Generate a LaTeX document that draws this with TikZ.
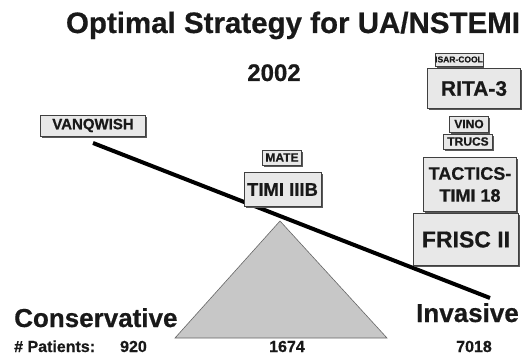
\documentclass[tikz,border=0pt]{standalone}
\usepackage{fontspec}
\setmainfont{Liberation Sans}[BoldFeatures={FakeBold=0.6}]
\usetikzlibrary{shadows}
\begin{document}
\begin{tikzpicture}[x=1pt,y=-1pt,
  trial/.style={draw=black!75,line width=0.6pt,fill=black!9,inner sep=0pt,
    align=center,font=\bfseries,text=black!90,
    drop shadow={shadow xshift=1.6pt,shadow yshift=-1.6pt,fill=black!65,opacity=1}},
  lbl/.style={font=\bfseries,text=black!90,inner sep=0pt,anchor=base}]
\useasboundingbox (0,0) rectangle (525,358);
% title
\node[lbl,font=\bfseries\fontsize{29.5}{31}\selectfont] (title) at (293,33) {Optimal Strategy for UA/NSTEMI};
\node[lbl,font=\bfseries\fontsize{24}{26}\selectfont] (year) at (274,81) {2002};
% fulcrum
\coordinate (apex) at (280,221);
\coordinate (bl) at (175,338);
\coordinate (br) at (387,338);
\fill[black!22] (apex) -- (bl) -- (br) -- cycle;
\draw[black!60,line width=0.6pt] (apex) -- (bl) -- (br) -- cycle;
% beam
\coordinate (beamL) at (93,143);
\coordinate (beamR) at (490,298);
\draw[line width=4pt] (beamL) -- (beamR);
% trials
\node[trial,minimum width=105pt,minimum height=21pt,font=\bfseries\fontsize{15}{16}\selectfont] (vanq) at (93,125.5) {VANQWISH};
\node[trial,minimum width=39pt,minimum height=15pt,font=\bfseries\fontsize{12}{13}\selectfont] (mate) at (282,157.5) {MATE};
\node[trial,minimum width=77pt,minimum height=34pt,font=\bfseries\fontsize{18.5}{21}\selectfont] (timi) at (282.5,189.5) {TIMI IIIB};
\node[trial,minimum width=31pt,minimum height=13pt,font=\bfseries\fontsize{8.5}{9}\selectfont] (isar) at (459,59.5) {ISAR-COOL};
\node[trial,minimum width=93pt,minimum height=40pt,font=\bfseries\fontsize{21}{23}\selectfont] (rita) at (474,88.5) {RITA-3};
\node[trial,minimum width=39pt,minimum height=16pt,font=\bfseries\fontsize{12}{13}\selectfont] (vino) at (469,124) {VINO};
\node[trial,minimum width=49pt,minimum height=15pt,font=\bfseries\fontsize{12}{13}\selectfont] (trucs) at (468,141.5) {TRUCS};
\node[trial,minimum width=93pt,minimum height=54pt,font=\bfseries\fontsize{18}{22}\selectfont] (tactics) at (470,184.5) {TACTICS-\\TIMI 18};
\node[trial,minimum width=105pt,minimum height=52pt,font=\bfseries\fontsize{23}{25}\selectfont] (frisc) at (466,239.5) {FRISC II};
% bottom labels
\node[lbl,anchor=base west,font=\bfseries\fontsize{26}{28}\selectfont] (cons) at (14,327) {Conservative};
\node[lbl,anchor=base east,font=\bfseries\fontsize{26}{28}\selectfont] (inv) at (519,322) {Invasive};
\node[lbl,anchor=base west,font=\bfseries\fontsize{16}{18}\selectfont] (pat) at (14,352) {\# Patients:};
\node[lbl,anchor=base east,font=\bfseries\fontsize{16}{18}\selectfont] (n1) at (147,352) {920};
\node[lbl,font=\bfseries\fontsize{16}{18}\selectfont] (n2) at (287,352) {1674};
\node[lbl,font=\bfseries\fontsize{16}{18}\selectfont] (n3) at (474,352) {7018};
\end{tikzpicture}
\end{document}
